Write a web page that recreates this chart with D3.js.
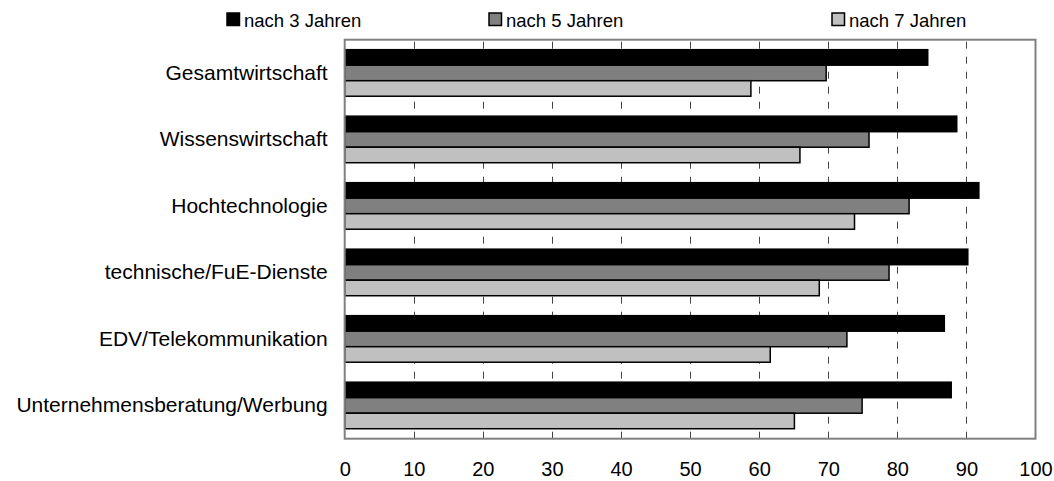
<!DOCTYPE html>
<html>
<head>
<meta charset="utf-8">
<script src="https://cdn.jsdelivr.net/npm/d3@7"></script>
<style>
  html, body { margin: 0; padding: 0; background: #fff; }
  svg { display: block; font-family: Arial, "Liberation Sans", sans-serif; }
</style>
</head>
<body>
<svg id="chart" width="1054" height="481"></svg>
<script>
// Sectors (top to bottom)
const categories = [
  "Gesamtwirtschaft",
  "Wissenswirtschaft",
  "Hochtechnologie",
  "technische/FuE-Dienste",
  "EDV/Telekommunikation",
  "Unternehmensberatung/Werbung"
];
// Series names
const seriesNames = ["nach 3 Jahren", "nach 5 Jahren", "nach 7 Jahren"];
// Survival rates in percent per series
const after3 = [84.4, 88.6, 91.8, 90.2, 86.8, 87.8];
const after5 = [69.7, 75.9, 81.7, 78.8, 72.7, 74.9];
const after7 = [58.8, 65.9, 73.8, 68.7, 61.6, 65.1];
const xTicks = [0, 10, 20, 30, 40, 50, 60, 70, 80, 90, 100];
const gridTicks = [10, 20, 30, 40, 50, 60, 70, 80, 90];

const seriesValues = [after3, after5, after7];
const colors = ["#000000", "#808080", "#c0c0c0"];
const FONT = "Arial, 'Liberation Sans', sans-serif";

const svg = d3.select("#chart");
const plotLeft = 344.7, plotRight = 1035.5, plotTop = 39.7, plotBottom = 438.7;

const x = d3.scaleLinear().domain([0, 100]).range([plotLeft, plotRight]);
const y = d3.scaleBand().domain(categories).range([plotTop, plotBottom])
  .paddingInner(0.3).paddingOuter(0.15);
const ySub = d3.scaleBand().domain(seriesNames).range([0, y.bandwidth()]);

// dashed vertical gridlines
svg.append("g").selectAll("line").data(gridTicks).join("line")
  .attr("x1", d => Math.round(x(d)) + 0.5).attr("x2", d => Math.round(x(d)) + 0.5)
  .attr("y1", plotTop).attr("y2", plotBottom)
  .attr("stroke", "#444").attr("stroke-width", 1)
  .attr("stroke-dasharray", "7,8").attr("stroke-dashoffset", -2);

// bars
const groups = svg.append("g").selectAll("g").data(categories).join("g")
  .attr("transform", d => `translate(0,${y(d)})`);
groups.selectAll("rect")
  .data((c, i) => seriesNames.map((s, j) => ({ s, j, v: seriesValues[j][i] })))
  .join("rect")
  .attr("x", x(0))
  .attr("y", d => ySub(d.s))
  .attr("width", d => x(d.v) - x(0))
  .attr("height", ySub.bandwidth())
  .attr("fill", d => colors[d.j])
  .attr("stroke", "#000").attr("stroke-width", 1.5);

// plot frame
svg.append("rect")
  .attr("x", plotLeft).attr("y", plotTop)
  .attr("width", plotRight - plotLeft).attr("height", plotBottom - plotTop)
  .attr("fill", "none").attr("stroke", "#808080").attr("stroke-width", 2);

// x axis labels
const xAxis = d3.axisBottom(x).tickValues(xTicks).tickSize(0).tickPadding(0);
const gx = svg.append("g").attr("transform", `translate(0,${plotBottom + 23})`).call(xAxis);
gx.select(".domain").remove();
gx.selectAll("text").attr("font-size", 20).attr("font-family", FONT)
  .attr("fill", "#000").attr("dy", "0.71em");

// category labels
const yAxis = d3.axisLeft(y).tickSize(0).tickPadding(17);
const gy = svg.append("g").attr("transform", `translate(${plotLeft},0)`).call(yAxis);
gy.select(".domain").remove();
gy.selectAll("text").attr("font-size", 21).attr("font-family", FONT)
  .attr("fill", "#000");

// legend
const legendX = [227, 489, 832];
const legend = svg.append("g").selectAll("g").data(seriesNames).join("g")
  .attr("transform", (d, i) => `translate(${legendX[i]},13)`);
legend.append("rect")
  .attr("width", 12.5).attr("height", 12.5)
  .attr("fill", (d, i) => colors[i])
  .attr("stroke", "#000").attr("stroke-width", 1.5);
legend.append("text")
  .attr("x", 17).attr("y", 13.5)
  .attr("font-size", 18.5).attr("font-family", FONT).attr("fill", "#000")
  .text(d => d);
</script>
</body>
</html>
